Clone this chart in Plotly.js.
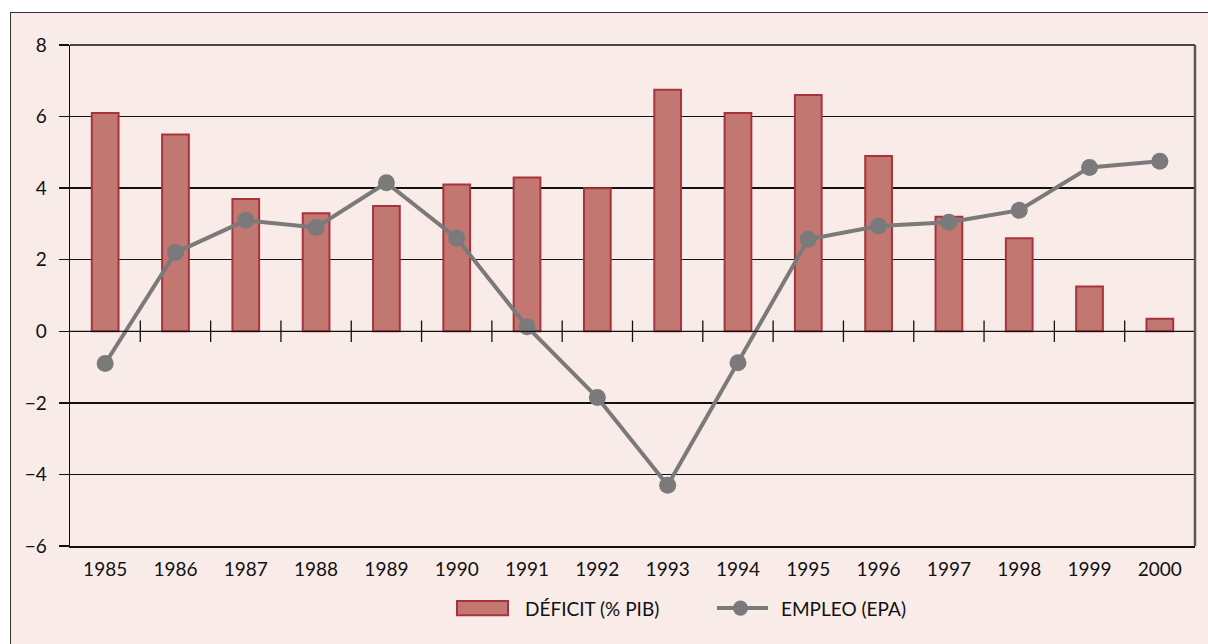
<!DOCTYPE html>
<html>
<head>
<meta charset="utf-8">
<script src="https://cdn.plot.ly/plotly-3.0.1.min.js"></script>
<style>
  html, body { margin: 0; padding: 0; background: #ffffff; }
  #chart {
    position: absolute; left: 10px; top: 12px;
    width: 1198px; height: 632px;
    border-left: 1.5px solid #333; border-top: 1.5px solid #333;
    box-sizing: border-box;
  }
</style>
</head>
<body>
<div id="chart"></div>
<script>
const years = ['1985','1986','1987','1988','1989','1990','1991','1992','1993','1994','1995','1996','1997','1998','1999','2000'];
const deficit = [6.1, 5.5, 3.7, 3.3, 3.5, 4.1, 4.3, 4.0, 6.75, 6.1, 6.6, 4.9, 3.2, 2.6, 1.25, 0.35];
const empleo = [-0.9, 2.2, 3.1, 2.9, 4.15, 2.6, 0.13, -1.85, -4.3, -0.88, 2.57, 2.94, 3.05, 3.38, 4.58, 4.75];
const deficitName = 'DÉFICIT (% PIB)';
const empleoName = 'EMPLEO (EPA)';
const yTicks = [-6, -4, -2, 0, 2, 4, 6, 8];

const barFill = '#c27870';
const barLine = '#a8333f';
const lineCol = '#7a7a7a';
const fontFam = 'Lato, "Open Sans", sans-serif';
const fs = 19;

const traces = [
  { type: 'bar', x: years, y: deficit, name: deficitName, width: 0.38,
    marker: { color: barFill, line: { color: barLine, width: 2 } }, showlegend: false },
  { type: 'scatter', mode: 'lines+markers', x: years, y: empleo, name: empleoName,
    line: { color: lineCol, width: 4 }, marker: { color: lineCol, size: 17 }, showlegend: false }
];

const shapes = [];
for (let i = 0; i < years.length - 1; i++) {
  shapes.push({ type: 'line', xref: 'x', yref: 'y', x0: i + 0.5, x1: i + 0.5, y0: -0.3, y1: 0.3,
    line: { color: '#111', width: 1.3 } });
}
shapes.push({ type: 'line', xref: 'paper', yref: 'y', x0: 0, x1: 1, y0: 0, y1: 0, line: { color: '#111', width: 1.3 } });
shapes.push({ type: 'line', xref: 'paper', yref: 'paper', x0: 1, x1: 1, y0: 0, y1: 1, line: { color: '#5e5656', width: 2.5 } });
shapes.push({ type: 'line', xref: 'paper', yref: 'paper', x0: 0, x1: 1, y0: 1, y1: 1, line: { color: '#4a4444', width: 2 } });

const pw = 1125, ph = 500;
shapes.push({ type: 'rect', xref: 'paper', yref: 'paper', x0: (457 - 70) / pw, x1: (508 - 70) / pw,
  y0: (545 - 614) / ph, y1: (545 - 600) / ph, fillcolor: barFill, line: { color: barLine, width: 2 } });
shapes.push({ type: 'line', xref: 'paper', yref: 'paper', x0: (717 - 70) / pw, x1: (768 - 70) / pw,
  y0: (545 - 607) / ph, y1: (545 - 607) / ph, line: { color: lineCol, width: 4 } });
shapes.push({ type: 'circle', xref: 'paper', yref: 'paper', x0: (733 - 70) / pw, x1: (748 - 70) / pw,
  y0: (545 - 614.5) / ph, y1: (545 - 599.5) / ph, fillcolor: lineCol, line: { color: lineCol, width: 0 } });

const annotations = [
  { xref: 'paper', yref: 'paper', x: (523 - 70) / pw, y: (545 - 607) / ph, xanchor: 'left', yanchor: 'middle',
    text: deficitName, showarrow: false, font: { family: fontFam, size: fs, color: '#111' } },
  { xref: 'paper', yref: 'paper', x: (779 - 70) / pw, y: (545 - 607) / ph, xanchor: 'left', yanchor: 'middle',
    text: empleoName, showarrow: false, font: { family: fontFam, size: fs, color: '#111' } }
];

const layout = {
  width: 1198, height: 632,
  margin: { l: 59, r: 14, t: 32, b: 99 },
  paper_bgcolor: '#f8ebe8',
  plot_bgcolor: '#f8ebe8',
  font: { family: fontFam, size: fs, color: '#111' },
  showlegend: false,
  xaxis: {
    type: 'category', range: [-0.5, 15.5],
    showgrid: false, zeroline: false,
    showline: true, linecolor: '#111', linewidth: 1.5,
    ticks: 'outside', ticklen: 6, tickcolor: 'rgba(0,0,0,0)',
    tickfont: { family: fontFam, size: fs, color: '#111' }
  },
  yaxis: {
    range: [-6, 8], tickvals: yTicks,
    showgrid: true, gridcolor: '#111', gridwidth: 1.3,
    zeroline: false,
    showline: true, linecolor: '#111', linewidth: 1.3,
    ticks: 'outside', ticklen: 10, tickcolor: '#111', tickwidth: 1.3,
    ticklabelstandoff: 8,
    tickfont: { family: fontFam, size: fs, color: '#111' }
  },
  shapes: shapes,
  annotations: annotations
};

Plotly.newPlot('chart', traces, layout, { displayModeBar: false, staticPlot: true });
</script>
</body>
</html>
